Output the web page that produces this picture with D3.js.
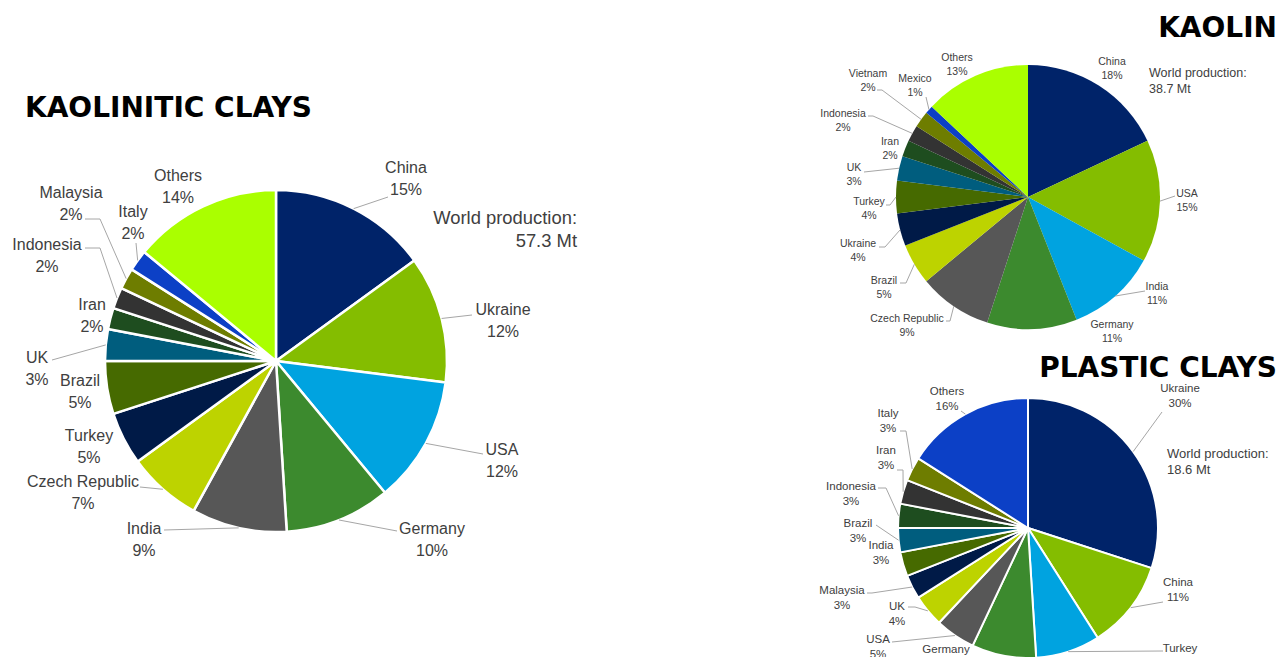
<!DOCTYPE html>
<html><head><meta charset="utf-8">
<script src="https://cdn.jsdelivr.net/npm/d3@7"></script>
<style>
html,body{margin:0;padding:0;background:#fff;overflow:hidden}
svg{display:block}
.lbl{font-family:"Liberation Sans",Arial,sans-serif;fill:#404040}
.ttl{font-family:"DejaVu Sans",Verdana,sans-serif;font-weight:bold;fill:#000}
</style></head>
<body>
<svg id="c" width="1279" height="657"></svg>
<script>
// ---------- DATA ----------
const kcCountries = ["China","Ukraine","USA","Germany","India","Czech Republic","Turkey","Brazil","UK","Iran","Indonesia","Malaysia","Italy","Others"];
const kcValues    = [15,12,12,10,9,7,5,5,3,2,2,2,2,14];
const kcTotal = "57.3 Mt";

const kaCountries = ["China","USA","India","Germany","Czech Republic","Brazil","Ukraine","Turkey","UK","Iran","Indonesia","Vietnam","Mexico","Others"];
const kaValues    = [18,15,11,11,9,5,4,4,3,2,2,2,1,13];
const kaTotal = "38.7 Mt";

const pcCountries = ["Ukraine","China","Turkey","Germany","USA","UK","Malaysia","India","Brazil","Indonesia","Iran","Italy","Others"];
const pcValues    = [30,11,8,8,5,4,3,3,3,3,3,3,16];
const pcTotal = "18.6 Mt";

// ---------- STYLE ----------
const palette = ["#002369","#84bd00","#00a3e0","#3c8a2e","#575757","#bdd300","#001a47","#466a00","#005d7e","#1e4d1f","#333333","#6e7d00","#0c40c6","#aaff00"];

// ---------- LAYOUT (label positions: [x, baseline, leader points...]) ----------
const kcLayout = [
  [406,173,[[388,197]]],[503,315,[[472,315]]],[502,455,[[483,454]]],[432,534,[[397,531]]],
  [144,534,[[164,530]]],[83,487,[[140,487]]],[89,441,null],[80,386,null],
  [37,363,[[52,360]]],[92,310,null],[47,250,[[100,248],[85,248]]],[71,198,[[100,219],[85,219]]],
  [133,217,[[136,243]]],[178,181,null]
];
const kaLayout = [
  [1112,65,null],[1187,197,[[1175,196]]],[1157,290,[[1145,291]]],[1112,328,null],
  [907,322,[[950,321],[946,321]]],[884,284,[[906,283],[900,283]]],[858,247,[[885,247],[879,247]]],
  [869,205,[[890,205],[886,205]]],[854,171,[[864,172]]],[890,145,null],
  [843,117,[[873,116],[868,116]]],[868,77,[[882,90],[877,90]]],[915,82,[[926,97]]],[957,61,null]
];
const pcLayout = [
  [1180,392,[[1162,412]]],[1178,586,[[1163,602]]],[1180,652,[[1163,651]]],[946,653,null],
  [878,643,[[892,642]]],[897,610,[[915,607],[908,607]]],[842,594,[[872,593],[867,593]]],
  [881,549,null],[858,527,[[876,525]]],[851,490,[[886,488],[878,488]]],
  [886,454,[[903,470],[897,470]]],[888,417,[[906,431],[900,431]]],[947,395,[[961,411]]]
];

const svg = d3.select("#c");

function drawPie(o){
  const g = svg.append("g");
  const pie = d3.pie().sort(null).value(d=>d)(o.values);
  const arc = d3.arc().innerRadius(0).outerRadius(o.r);
  const edge = d3.arc().innerRadius(o.r).outerRadius(o.r);
  const pg = g.append("g").attr("transform",`translate(${o.cx},${o.cy})`);
  pg.selectAll("path").data(pie).join("path")
    .attr("d",arc)
    .attr("fill",(d,i)=>palette[i])
    .attr("stroke",o.stroke?"#fff":"none")
    .attr("stroke-width",o.stroke||0)
    .attr("stroke-linejoin","round");
  pie.forEach((d,i)=>{
    const L = o.layout[i];
    if(L[2]){
      const c = edge.centroid(d);
      const pts = [[o.cx+c[0],o.cy+c[1]]].concat(L[2]);
      g.append("path").attr("d",d3.line()(pts))
        .attr("fill","none").attr("stroke","#a6a6a6").attr("stroke-width",1);
    }
    const t = g.append("text").attr("class","lbl").attr("text-anchor","middle")
      .attr("font-size",o.fs).attr("x",L[0]).attr("y",L[1]);
    t.text(o.names[i]);
    g.append("text").attr("class","lbl").attr("text-anchor","middle")
      .attr("font-size",o.fs).attr("x",L[0]).attr("y",L[1]+o.lh).text(d.data+"%");
  });
  const w = g.append("g");
  w.append("text").attr("class","lbl").attr("font-size",o.wfs).attr("text-anchor",o.wAnchor)
    .attr("x",o.wx).attr("y",o.wy).text("World production:");
  w.append("text").attr("class","lbl").attr("font-size",o.wfs).attr("text-anchor",o.wAnchor)
    .attr("x",o.wx).attr("y",o.wy+o.wlh).text(o.total);
}

drawPie({cx:276,cy:361,r:171,values:kcValues,names:kcCountries,layout:kcLayout,stroke:2.5,
  fs:16,lh:21.5,wfs:18.4,wx:577,wy:224,wlh:23,wAnchor:"end",total:kcTotal});
drawPie({cx:1028,cy:197,r:132,values:kaValues,names:kaCountries,layout:kaLayout,stroke:0,
  fs:10.5,lh:14,wfs:12.5,wx:1149,wy:77,wlh:16,wAnchor:"start",total:kaTotal});
drawPie({cx:1028,cy:528,r:130,values:pcValues,names:pcCountries,layout:pcLayout,stroke:2,
  fs:11.5,lh:15,wfs:13,wx:1167,wy:458,wlh:16,wAnchor:"start",total:pcTotal});

svg.append("text").attr("class","ttl").attr("font-size",28).attr("x",25).attr("y",117).text("KAOLINITIC CLAYS");
svg.append("text").attr("class","ttl").attr("font-size",28).attr("x",1277).attr("y",37).attr("text-anchor","end").text("KAOLIN");
svg.append("text").attr("class","ttl").attr("font-size",28).attr("x",1277).attr("y",377).attr("text-anchor","end").text("PLASTIC CLAYS");
</script>
</body></html>
